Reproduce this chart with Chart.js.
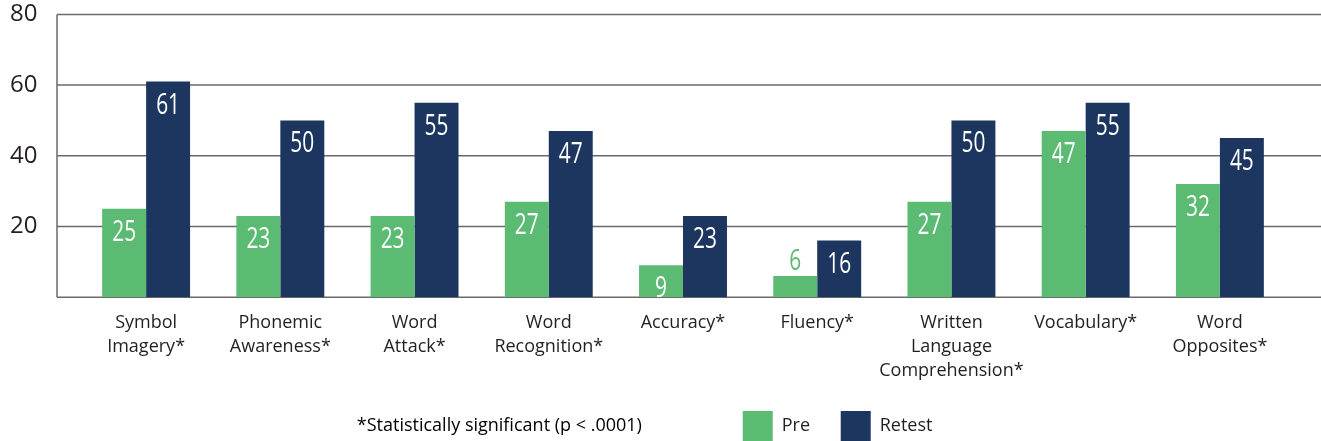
<!DOCTYPE html>
<html>
<head>
<meta charset="utf-8">
<script src="https://cdn.jsdelivr.net/npm/chart.js@4/dist/chart.umd.min.js"></script>
<style>
  body { margin: 0; background: #fff; }
  #wrap { width: 1321px; height: 441px; }
</style>
</head>
<body>
<div id="wrap"><canvas id="score-chart"></canvas></div>
<script>
// Pre vs Retest scores

const categories = [
  ["Symbol", "Imagery*"],
  ["Phonemic", "Awareness*"],
  ["Word", "Attack*"],
  ["Word", "Recognition*"],
  ["Accuracy*"],
  ["Fluency*"],
  ["Written", "Language", "Comprehension*"],
  ["Vocabulary*"],
  ["Word", "Opposites*"],
];
const preValues = [25, 23, 23, 27, 9, 6, 27, 47, 32];
const retestValues = [61, 50, 55, 47, 23, 16, 50, 55, 45];
const yTicks = [0, 20, 40, 60, 80];
const note = "*Statistically significant (p < .0001)";

const GREEN = "#5bbb73";
const NAVY = "#1d365f";
const TEXT = "#231f20";
const LABEL_FONT = "'Open Sans', 'DejaVu Sans', sans-serif";

// grid lines run past the bars on both sides, so draw them by hand
const framePlugin = {
  id: "frame",
  beforeDatasetsDraw(chart) {
    const { ctx, chartArea, scales } = chart;
    const left = chartArea.left - 22;
    ctx.save();
    ctx.strokeStyle = "#6a6a6a";
    ctx.lineWidth = 1.5;
    yTicks.forEach(function (v) {
      const py = scales.y.getPixelForValue(v);
      ctx.beginPath();
      ctx.moveTo(left, py);
      ctx.lineTo(chart.width, py);
      ctx.stroke();
    });
    ctx.beginPath();
    ctx.moveTo(left, scales.y.getPixelForValue(yTicks[yTicks.length - 1]));
    ctx.lineTo(left, scales.y.getPixelForValue(0));
    ctx.stroke();
    ctx.restore();
  },
};

// condensed value labels (squeeze a normal font horizontally)
const valueLabels = {
  id: "valueLabels",
  afterDatasetsDraw(chart) {
    const ctx = chart.ctx;
    chart.data.datasets.forEach(function (ds, i) {
      chart.getDatasetMeta(i).data.forEach(function (bar, j) {
        const h = bar.base - bar.y;
        const inside = h >= 25;
        ctx.save();
        ctx.translate(bar.x, inside ? bar.y + 32 : bar.y - 6);
        ctx.scale(0.72, 1);
        ctx.font = "29px " + LABEL_FONT;
        ctx.textAlign = "center";
        ctx.textBaseline = "alphabetic";
        ctx.fillStyle = inside ? "#ffffff" : ds.backgroundColor;
        ctx.fillText(ds.data[j], 0, 0);
        ctx.restore();
      });
    });
  },
};

const ctx = document.getElementById("score-chart").getContext("2d");
const scoreChart = new Chart(ctx, {
  type: "bar",
  data: {
    labels: categories,
    datasets: [
      {
        label: "Pre",
        data: preValues,
        backgroundColor: GREEN,
        categoryPercentage: 0.655,
        barPercentage: 1.0,
      },
      {
        label: "Retest",
        data: retestValues,
        backgroundColor: NAVY,
        categoryPercentage: 0.655,
        barPercentage: 1.0,
      },
    ],
  },
  options: {
    responsive: true,
    maintainAspectRatio: false,
    animation: false,
    layout: {
      padding: { left: 10, right: 34, top: 1, bottom: -10 },
    },
    plugins: {
      tooltip: { enabled: false },
      legend: {
        position: "bottom",
        onClick: null,
        labels: {
          boxWidth: 30,
          boxHeight: 30,
          padding: 12,
          color: TEXT,
          font: { family: LABEL_FONT, size: 18 },
          generateLabels: function (chart) {
            const items = Chart.defaults.plugins.legend.labels.generateLabels(chart);
            items.forEach(function (it) { it.lineWidth = 0; });
            // trailing spaces only widen the gaps between items
            items[0].text += "    ";
            items[1].text += "          ";
            items.unshift({
              text: note + "                   ",
              fillStyle: "rgba(0,0,0,0)",
              strokeStyle: "rgba(0,0,0,0)",
              lineWidth: 0,
              hidden: false,
              datasetIndex: -1,
            });
            return items;
          },
        },
      },
    },
    scales: {
      x: {
        grid: { display: false, drawTicks: false },
        border: { display: false },
        afterFit: function (scale) {
          scale.height += 2;
        },
        ticks: {
          color: TEXT,
          padding: 14,
          maxRotation: 0,
          autoSkip: false,
          font: { family: LABEL_FONT, size: 18, lineHeight: 1.33 },
        },
      },
      y: {
        min: 0,
        max: 80,
        grid: { display: false, drawTicks: false },
        border: { display: false },
        afterFit: function (scale) {
          scale.width = 69;
        },
        ticks: {
          stepSize: 20,
          padding: 0,
          crossAlign: "far",
          color: TEXT,
          font: { family: LABEL_FONT, size: 24 },
          callback: function (value) {
            return value === 0 ? "" : value;
          },
        },
      },
    },
  },
  plugins: [framePlugin, valueLabels],
});
</script>
</body>
</html>
